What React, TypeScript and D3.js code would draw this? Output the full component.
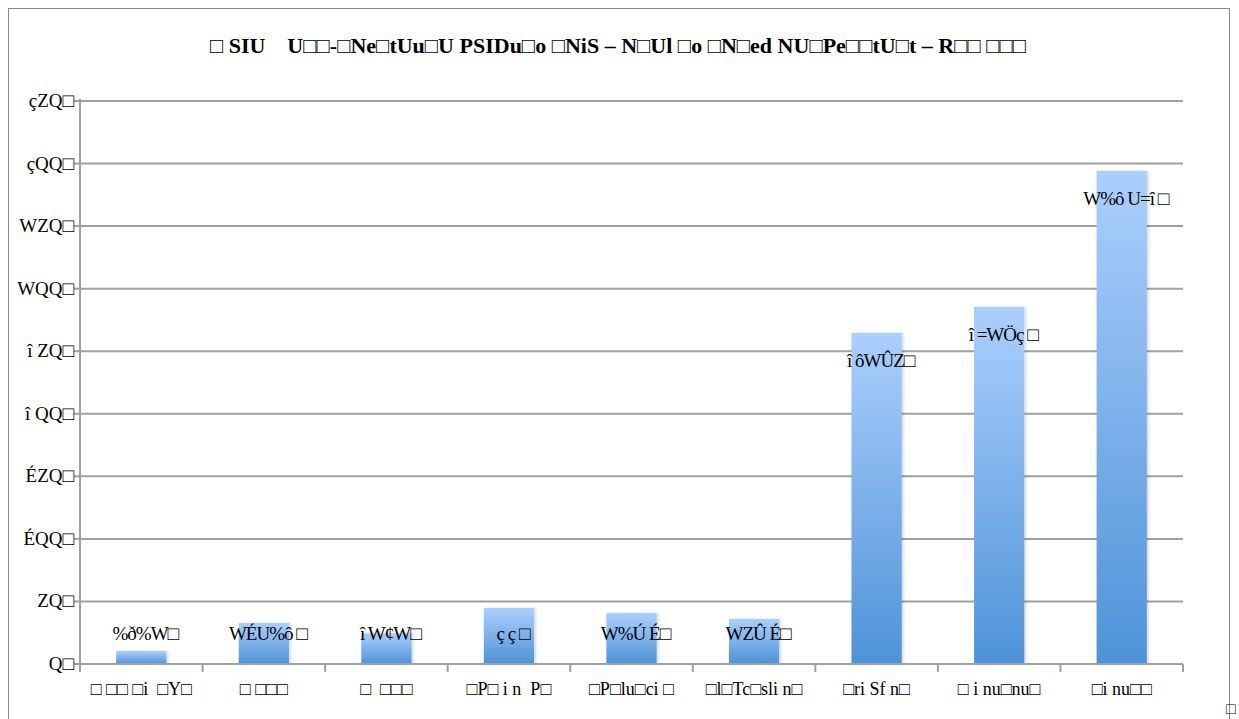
import React from "react";
import * as d3 from "d3";

const T = "\u25A1";

const title = `${T} SIU    U${T}${T}-${T}Ne${T}tUu${T}U PSIDu${T}o ${T}NiS – N${T}Ul ${T}o ${T}N${T}ed NU${T}Pe${T}${T}tU${T}t – R${T}${T} ${T}${T}${T}`;

const categories = [
  `${T} ${T}${T} ${T}i  ${T}Y${T}`,
  `${T} ${T}${T}${T}`,
  `${T}  ${T}${T}${T}`,
  `${T}P${T} i n  P${T}`,
  `${T}P${T}lu${T}ci ${T}`,
  `${T}l${T}Tc${T}sli n${T}`,
  `${T}ri Sf n${T}`,
  `${T} i nu${T}nu${T}`,
  `${T}i nu${T}${T}`,
];

const values = [10.4, 32.8, 24.5, 44.8, 40.8, 36.0, 264.6, 285.4, 394.0];

const valueLabels = [
  `%ð%W${T}`,
  `WÉU%ô ${T}`,
  `î W¢W${T}`,
  `ç ç ${T}`,
  `W%Ú É${T}`,
  `WZÛ É${T}`,
  `î ôWÛZ${T}`,
  `î =WÖç ${T}`,
  `W%ô U=î ${T}`,
];

const yTicks = [0, 50, 100, 150, 200, 250, 300, 350, 400, 450];
const yTickLabels = [
  `Q${T}`,
  `ZQ${T}`,
  `ÉQQ${T}`,
  `ÉZQ${T}`,
  `î QQ${T}`,
  `î ZQ${T}`,
  `WQQ${T}`,
  `WZQ${T}`,
  `çQQ${T}`,
  `çZQ${T}`,
];

export default function App() {
  const W = 1239;
  const H = 719;
  const left = 80;
  const right = 1183;
  const top = 101;
  const bottom = 664;

  const x = d3
    .scaleBand<string>()
    .domain(categories.map((_, i) => String(i)))
    .range([left, right])
    .paddingInner(0.59)
    .paddingOuter(0.295);
  const xb = d3
    .scaleBand<string>()
    .domain(categories.map((_, i) => String(i)))
    .range([left, right]);
  const y = d3.scaleLinear().domain([0, 450]).range([bottom, top]);

  const font = "'Liberation Serif', 'Times New Roman', serif";
  const gridColor = "#a0a0a0";
  const boxStyle = { whiteSpace: "pre" as const };

  return (
    <svg
      width={W}
      height={H}
      style={{ position: "absolute", left: 0, top: 0, display: "block" }}
      fontFamily={font}
    >
      <defs>
        <linearGradient id="barGrad" x1="0" y1="0" x2="0" y2="1">
          <stop offset="0%" stopColor="#abcffd" />
          <stop offset="100%" stopColor="#4e93d8" />
        </linearGradient>
        <filter id="shadow" x="-20%" y="-5%" width="140%" height="110%">
          <feDropShadow dx="1.5" dy="0" stdDeviation="1.5" floodColor="#000" floodOpacity="0.18" />
        </filter>
      </defs>
      <rect x={0} y={0} width={W} height={H} fill="#fff" />
      <rect x={8.5} y={8.5} width={1221} height={760} fill="none" stroke="#8a8a8a" strokeWidth={1} />

      <text x={618} y={53} textAnchor="middle" fontSize={22} fontWeight="bold" fill="#000" style={boxStyle}>
        {title}
      </text>

      {yTicks.map((t, i) => (
        <g key={t}>
          {t > 0 && (
            <line x1={left} x2={right} y1={y(t)} y2={y(t)} stroke={gridColor} strokeWidth={2} />
          )}
          <line x1={left - 6} x2={left} y1={y(t)} y2={y(t)} stroke={gridColor} strokeWidth={2} />
          <text x={74} y={y(t) + 6} textAnchor="end" fontSize={19} fill="#000" style={boxStyle}>
            {yTickLabels[i]}
          </text>
        </g>
      ))}

      {values.map((v, i) => {
        const bx = x(String(i))!;
        const bw = x.bandwidth();
        return (
          <rect
            key={i}
            x={bx}
            y={y(v)}
            width={bw}
            height={bottom - y(v)}
            fill="url(#barGrad)"
            filter="url(#shadow)"
          />
        );
      })}

      <line x1={left} x2={left} y1={top - 2} y2={bottom} stroke={gridColor} strokeWidth={2} />
      <line x1={left} x2={right} y1={bottom} y2={bottom} stroke={gridColor} strokeWidth={2} />
      {categories.map((_, i) => (
        <line
          key={i}
          x1={xb(String(i))! + xb.bandwidth()}
          x2={xb(String(i))! + xb.bandwidth()}
          y1={bottom}
          y2={bottom + 8}
          stroke={gridColor}
          strokeWidth={2}
        />
      ))}
      <line x1={left} x2={left} y1={bottom} y2={bottom + 8} stroke={gridColor} strokeWidth={2} />

      {values.map((v, i) => {
        const cx = x(String(i))! + x.bandwidth() / 2;
        const ly = Math.min(y(v) + 34, 640);
        return (
          <text key={i} x={cx + 4} y={ly} textAnchor="middle" fontSize={19} fill="#000" letterSpacing={-1} style={boxStyle}>
            {valueLabels[i]}
          </text>
        );
      })}

      {categories.map((c, i) => {
        const cx = xb(String(i))! + xb.bandwidth() / 2;
        return (
          <text key={i} x={cx} y={695} textAnchor="middle" fontSize={18} fill="#000" style={boxStyle}>
            {c}
          </text>
        );
      })}

      <text x={1226} y={714} fontSize={16} fill="#000">
        {T}
      </text>
    </svg>
  );
}
